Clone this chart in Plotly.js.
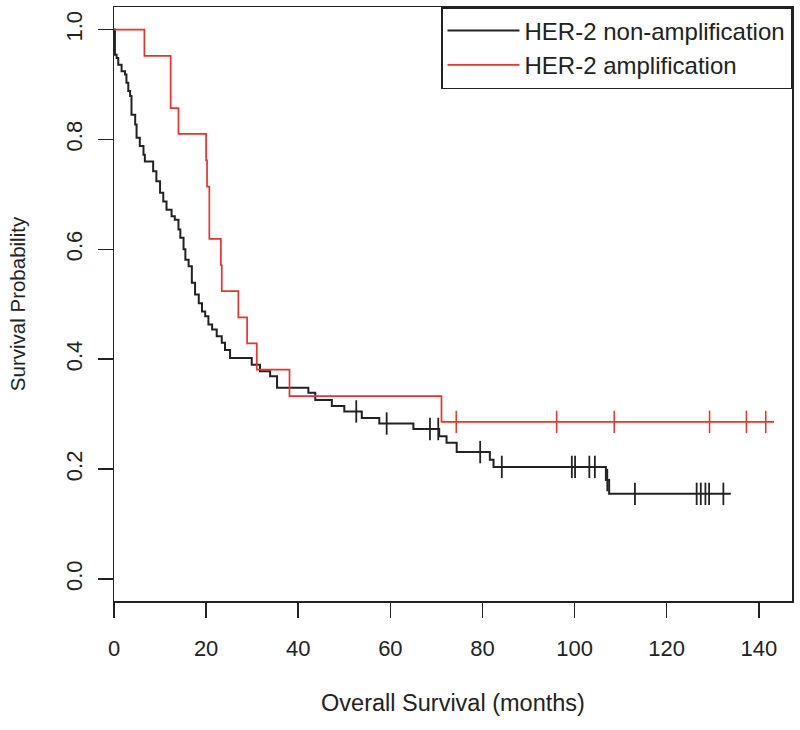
<!DOCTYPE html>
<html>
<head>
<meta charset="utf-8">
<script src="https://cdn.plot.ly/plotly-3.0.1.min.js"></script>
<style>html,body{margin:0;padding:0;background:#fff;}#chart{width:800px;height:730px;}</style>
</head>
<body>
<div id="chart"></div>
<script>
// HER-2 non-amplification (Kaplan-Meier step curve)
var nonAmpTime = [0, 0.2, 0.57, 0.93, 1.65, 2.4, 2.7, 3.1, 3.5, 3.8, 4.6, 4.9, 5.6, 6.4, 6.7, 8.5, 9.2, 10.0, 10.7, 11.4, 12.5, 13.2, 14.0, 14.4, 15.1, 15.5, 16.2, 16.9, 17.6, 18.4, 19.1, 19.8, 20.5, 21.3, 22.3, 23.4, 24.1, 25.2, 29.9, 31.7, 33.9, 35.4, 42.2, 43.7, 47.3, 50.0, 53.8, 57.6, 65.0, 70.6, 72.2, 74.4, 81.6, 82.4, 106.8, 107.5, 133.9];
var nonAmpSurv = [1.0, 0.954, 0.948, 0.936, 0.924, 0.918, 0.903, 0.888, 0.879, 0.845, 0.827, 0.803, 0.788, 0.772, 0.760, 0.742, 0.724, 0.703, 0.687, 0.672, 0.660, 0.654, 0.636, 0.621, 0.600, 0.581, 0.569, 0.539, 0.518, 0.502, 0.487, 0.478, 0.463, 0.454, 0.442, 0.430, 0.417, 0.402, 0.390, 0.378, 0.369, 0.348, 0.339, 0.326, 0.315, 0.305, 0.293, 0.283, 0.273, 0.260, 0.248, 0.231, 0.217, 0.204, 0.180, 0.155, 0.155];
var nonAmpCensTime = [52.6, 59.2, 68.6, 70.4, 79.5, 84.2, 99.4, 100.1, 103.2, 104.4, 107.1, 113.1, 126.5, 127.4, 128.4, 129.2, 132.3];
var nonAmpCensSurv = [0.305, 0.283, 0.273, 0.273, 0.231, 0.204, 0.204, 0.204, 0.204, 0.204, 0.180, 0.155, 0.155, 0.155, 0.155, 0.155, 0.155];

// HER-2 amplification
var ampTime = [0, 6.6, 12.3, 14.0, 20.0, 20.2, 20.7, 23.2, 23.4, 27.0, 28.9, 31.0, 38.1, 71.1, 143.3];
var ampSurv = [1.0, 0.952, 0.857, 0.810, 0.762, 0.714, 0.619, 0.571, 0.524, 0.476, 0.429, 0.381, 0.333, 0.286, 0.286];
var ampCensTime = [74.3, 96.1, 108.6, 129.3, 137.3, 141.5];
var ampCensSurv = [0.286, 0.286, 0.286, 0.286, 0.286, 0.286];

var seriesNames = ['HER-2 non-amplification', 'HER-2 amplification'];
var xTicks = [0, 20, 40, 60, 80, 100, 120, 140];
var yTicks = [0.0, 0.2, 0.4, 0.6, 0.8, 1.0];

var FONT = 'Liberation Sans, Arial, Helvetica, sans-serif';
var INK = '#222222';
var RED = '#f0302a';

var traces = [
  {x: nonAmpTime, y: nonAmpSurv, type: 'scatter', mode: 'lines', name: seriesNames[0],
   line: {shape: 'hv', color: INK, width: 2}},
  {x: ampTime, y: ampSurv, type: 'scatter', mode: 'lines', name: seriesNames[1],
   line: {shape: 'hv', color: RED, width: 1.7}},
  {x: nonAmpCensTime, y: nonAmpCensSurv, type: 'scatter', mode: 'markers', showlegend: false,
   hoverinfo: 'skip', marker: {symbol: 'line-ns-open', size: 16, color: INK, line: {color: INK, width: 1.8}}},
  {x: ampCensTime, y: ampCensSurv, type: 'scatter', mode: 'markers', showlegend: false,
   hoverinfo: 'skip', marker: {symbol: 'line-ns-open', size: 16, color: RED, line: {color: RED, width: 1.5}}}
];

var layout = {
  width: 800, height: 730,
  margin: {l: 114, r: 8, t: 7, b: 129},
  paper_bgcolor: '#ffffff', plot_bgcolor: '#ffffff',
  font: {family: FONT, color: INK, size: 22},
  showlegend: true,
  legend: {
    x: 1, xanchor: 'right', y: 1, yanchor: 'top',
    bgcolor: '#ffffff', bordercolor: INK, borderwidth: 1.5,
    font: {family: FONT, size: 24, color: INK},
    itemwidth: 72
  },
  xaxis: {
    range: [0, 147.2], tickmode: 'array', tickvals: xTicks,
    ticktext: xTicks.map(String),
    ticks: 'outside', ticklen: 15, tickwidth: 1.5, tickcolor: INK,
    showline: true, linecolor: INK, linewidth: 1.5, mirror: true,
    showgrid: false, zeroline: false,
    tickfont: {family: FONT, size: 22, color: INK},
    ticklabelstandoff: 12,
    title: {text: 'Overall Survival (months)', font: {family: FONT, size: 23.5, color: INK}, standoff: 34},
    automargin: false
  },
  yaxis: {
    range: [-0.04, 1.041], tickmode: 'array', tickvals: yTicks,
    ticktext: yTicks.map(function (v) { return v.toFixed(1); }),
    tickangle: -90,
    ticks: 'outside', ticklen: 15, tickwidth: 1.5, tickcolor: INK,
    showline: true, linecolor: INK, linewidth: 1.5, mirror: true,
    showgrid: false, zeroline: false,
    tickfont: {family: FONT, size: 22, color: INK},
    ticklabelstandoff: 7,
    title: {text: 'Survival Probability', font: {family: FONT, size: 20.5, color: INK}, standoff: 30},
    automargin: false
  }
};

Plotly.newPlot('chart', traces, layout, {displayModeBar: false, staticPlot: true});
</script>
</body>
</html>
